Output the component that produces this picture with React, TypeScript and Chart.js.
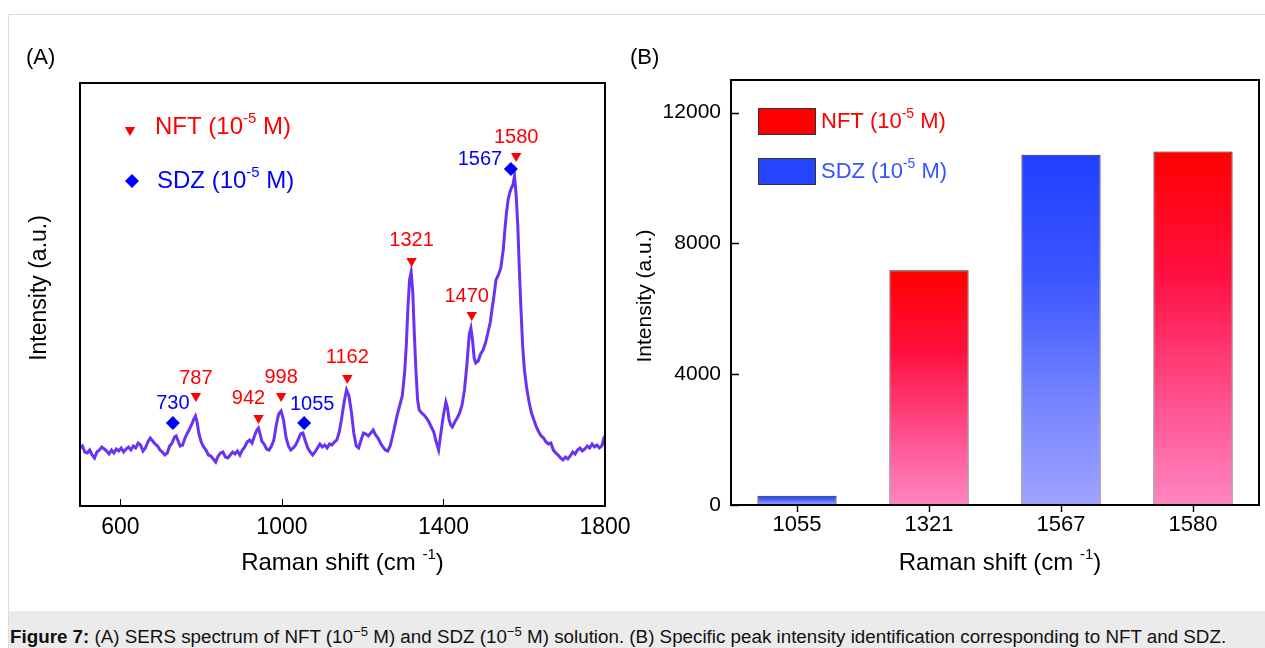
import React, { useEffect, useRef } from 'react';
import { Chart, registerables } from 'chart.js';

Chart.register(...registerables);

const FONT = '"Liberation Sans", Arial, Helvetica, sans-serif';

// ---------- Panel A: SERS spectrum ----------
const ramanShift = [
  500, 506, 512, 518, 524, 530, 536, 542, 548, 554, 560, 566, 572, 578, 584, 590, 596, 602, 608, 614,
  620, 626, 632, 638, 644, 650, 656, 662, 668, 674, 680, 686, 692, 698, 704, 710, 716, 722, 728, 734,
  738, 742, 748, 754, 760, 766, 770, 776, 782, 786, 790, 794, 800, 806, 812, 818, 824, 830, 836, 842,
  848, 854, 860, 866, 872, 878, 884, 890, 896, 902, 908, 914, 920, 926, 932, 938, 942, 946, 950, 956,
  962, 968, 974, 980, 986, 992, 998, 1004, 1010, 1016, 1022, 1028, 1034, 1040, 1046, 1052, 1058, 1064, 1070, 1076,
  1082, 1088, 1094, 1100, 1106, 1112, 1118, 1124, 1130, 1136, 1142, 1148, 1154, 1160, 1166, 1172, 1178, 1184, 1190, 1196,
  1202, 1208, 1214, 1220, 1226, 1232, 1238, 1244, 1250, 1256, 1262, 1268, 1274, 1280, 1286, 1292, 1298, 1304, 1308, 1312,
  1316, 1320, 1324, 1328, 1332, 1336, 1340, 1346, 1352, 1358, 1364, 1370, 1376, 1382, 1388, 1394, 1400, 1406, 1410, 1414,
  1418, 1422, 1428, 1434, 1440, 1446, 1452, 1458, 1464, 1468, 1472, 1476, 1480, 1486, 1492, 1498, 1504, 1510, 1516, 1520,
  1526, 1530, 1536, 1542, 1548, 1552, 1556, 1560, 1564, 1568, 1572, 1576, 1580, 1584, 1588, 1592, 1596, 1600, 1606, 1612,
  1618, 1624, 1630, 1636, 1642, 1648, 1654, 1660, 1666, 1672, 1678, 1684, 1690, 1696, 1702, 1708, 1714, 1720, 1726, 1732,
  1738, 1744, 1750, 1756, 1762, 1768, 1774, 1780, 1786, 1792, 1796, 1800,
];
const intensity = [
  580, 600, 540, 530, 560, 510, 480, 540, 560, 590, 570, 550, 520, 560, 530, 570, 550, 580, 540, 570,
  590, 560, 600, 580, 630, 610, 550, 580, 640, 680, 650, 620, 600, 560, 540, 510, 530, 600, 630, 690,
  700, 660, 600, 610, 680, 730, 760, 810, 870, 900, 840, 730, 640, 590, 560, 510, 500, 470, 440, 500,
  530, 540, 490, 480, 510, 540, 520, 550, 510, 560, 590, 640, 660, 630, 700, 760, 780, 720, 650, 620,
  570, 560, 600, 660, 810, 920, 950, 860, 690, 600, 560, 580, 610, 660, 720, 730, 650, 580, 540, 510,
  540, 580, 620, 590, 610, 580, 620, 610, 640, 660, 740, 880, 1040, 1160, 1100, 940, 730, 600, 580, 660,
  730, 720, 700, 730, 760, 710, 680, 630, 590, 560, 550, 600, 700, 810, 920, 1010, 1100, 1340, 1610, 1980,
  2260, 2340, 2140, 1710, 1340, 1060, 960, 930, 910, 880, 840, 790, 740, 640, 560, 740, 910, 1040, 980, 860,
  810, 790, 840, 880, 930, 1010, 1160, 1410, 1720, 1780, 1660, 1480, 1430, 1450, 1520, 1560, 1630, 1730, 1840, 1960,
  2130, 2260, 2310, 2380, 2560, 2760, 2930, 3060, 3130, 3180, 3210, 3300, 3110, 2810, 2360, 1960, 1610, 1380, 1180, 1040,
  930, 860, 790, 740, 700, 680, 640, 620, 630, 560, 530, 510, 480, 460, 490, 470, 500, 540, 520, 560,
  580, 550, 570, 600, 580, 620, 590, 610, 580, 600, 660, 610,
];
const xTicksA = [600, 1000, 1400, 1800];

// peak markers (x = Raman shift, y = marker intensity)
const nftPeaks = [787, 942, 998, 1162, 1321, 1470, 1580];
const nftMarkerY = [1100, 880, 1100, 1280, 2450, 1910, 3500];
const sdzPeaks = [730, 1055, 1567];
const sdzMarkerY = [830, 830, 3370];

// ---------- Panel B: peak intensities ----------
const barCategories = ['1055', '1321', '1567', '1580'];
const nftBar = [null, 7180, null, 10810];
const sdzBar = [285, null, 10715, null];
const yTicksB = [0, 4000, 8000, 12000];

// styling (label offsets in px relative to marker)
const labelOffset: Record<number, [number, number]> = {
  787: [0, -18], 942: [-10, -20], 998: [0, -19], 1162: [0, -21], 1321: [0, -21],
  1470: [-5, -19], 1580: [0, -19], 730: [0, -20], 1055: [8, -19], 1567: [-31, -10],
};

const RED = '#ff0000';
const BLUE = '#0000ff';
const LINE = '#6a33f2';

type Part = [string, boolean?];

function drawRich(
  ctx: CanvasRenderingContext2D, parts: Part[], x: number, y: number,
  size: number, color: string, align: 'left' | 'center' | 'right' = 'left',
) {
  ctx.save();
  ctx.fillStyle = color;
  ctx.textBaseline = 'middle';
  ctx.textAlign = 'left';
  const supSize = Math.round(size * 0.62);
  const widths = parts.map(([t, sup]) => {
    ctx.font = `${sup ? supSize : size}px ${FONT}`;
    return ctx.measureText(t).width;
  });
  const total = widths.reduce((a, b) => a + b, 0);
  let cx = align === 'left' ? x : align === 'center' ? x - total / 2 : x - total;
  parts.forEach(([t, sup], i) => {
    ctx.font = `${sup ? supSize : size}px ${FONT}`;
    ctx.fillText(t, cx, sup ? y - size * 0.36 : y);
    cx += widths[i];
  });
  ctx.restore();
}

function drawRotated(ctx: CanvasRenderingContext2D, parts: Part[], x: number, y: number, size: number, color: string) {
  ctx.save();
  ctx.translate(x, y);
  ctx.rotate(-Math.PI / 2);
  drawRich(ctx, parts, 0, 0, size, color, 'center');
  ctx.restore();
}

function drawDownTriangle(ctx: CanvasRenderingContext2D, x: number, y: number, r: number, color: string) {
  ctx.save();
  ctx.fillStyle = color;
  ctx.beginPath();
  ctx.moveTo(x, y + r);
  ctx.lineTo(x - r * 0.866, y - r / 2);
  ctx.lineTo(x + r * 0.866, y - r / 2);
  ctx.closePath();
  ctx.fill();
  ctx.restore();
}

function drawDiamond(ctx: CanvasRenderingContext2D, x: number, y: number, r: number, color: string) {
  ctx.save();
  ctx.fillStyle = color;
  ctx.beginPath();
  ctx.moveTo(x, y - r);
  ctx.lineTo(x + r, y);
  ctx.lineTo(x, y + r);
  ctx.lineTo(x - r, y);
  ctx.closePath();
  ctx.fill();
  ctx.restore();
}

const panelAPlugin = {
  id: 'panelA',
  afterDraw(chart: any) {
    const { ctx, chartArea: a, scales } = chart;
    // peak labels
    const sets: [number, number[], string][] = [[1, nftPeaks, RED], [2, sdzPeaks, BLUE]];
    sets.forEach(([di, peaks, color]) => {
      const meta = chart.getDatasetMeta(di);
      meta.data.forEach((pt: any, j: number) => {
        const p = peaks[j];
        const [dx, dy] = labelOffset[p] || [0, -19];
        drawRich(ctx, [[String(p)]], pt.x + dx, pt.y + dy, 20, color, 'center');
      });
    });
    // frame
    ctx.save();
    ctx.strokeStyle = '#000';
    ctx.lineWidth = 2;
    ctx.strokeRect(a.left, a.top, a.right - a.left, a.bottom - a.top);
    ctx.lineWidth = 1;
    xTicksA.forEach((v) => {
      const x = Math.round(scales.x.getPixelForValue(v)) + 0.5;
      ctx.beginPath();
      ctx.moveTo(x, a.bottom);
      ctx.lineTo(x, a.bottom - 7);
      ctx.stroke();
    });
    ctx.restore();
    // legend
    drawDownTriangle(ctx, 130, 130, 6, RED);
    drawRich(ctx, [['NFT (10'], ['-5', true], [' M)']], 155, 127, 24, RED);
    drawDiamond(ctx, 132, 181, 7, BLUE);
    drawRich(ctx, [['SDZ (10'], ['-5', true], [' M)']], 157, 181, 24, BLUE);
    // titles
    drawRich(ctx, [['(A)']], 26, 58, 22, '#000');
    drawRotated(ctx, [['Intensity (a.u.)']], 40, 288, 23, '#000');
    drawRich(ctx, [['Raman shift (cm '], ['-1', true], [')']], (a.left + a.right) / 2, 563, 24, '#000', 'center');
  },
};

function gradFill(stops: [number, string][], fallback: string) {
  return (c: any) => {
    const chart = c.chart;
    const { ctx, chartArea, scales } = chart;
    if (!chartArea || c.type !== 'data' || c.raw == null || !scales.y) return fallback;
    const top = scales.y.getPixelForValue(c.raw);
    const bottom = scales.y.getPixelForValue(0);
    if (!isFinite(top) || !isFinite(bottom) || bottom - top < 1) return fallback;
    const g = ctx.createLinearGradient(0, top, 0, bottom);
    stops.forEach(([o, col]) => g.addColorStop(o, col));
    return g;
  };
}

const NFT_STOPS: [number, string][] = [[0, '#ff0000'], [0.35, '#ff1040'], [0.7, '#ff4f8e'], [1, '#ff86c0']];
const SDZ_STOPS: [number, string][] = [[0, '#2040ff'], [0.35, '#3b55ff'], [0.7, '#7584ff'], [1, '#a0a3ff']];

const panelBPlugin = {
  id: 'panelB',
  afterDraw(chart: any) {
    const { ctx, chartArea: a, scales } = chart;
    ctx.save();
    ctx.strokeStyle = '#000';
    ctx.lineWidth = 2;
    ctx.strokeRect(a.left, a.top, a.right - a.left, a.bottom - a.top);
    ctx.lineWidth = 1.5;
    yTicksB.forEach((v) => {
      const y = Math.round(scales.y.getPixelForValue(v)) + 0.5;
      ctx.beginPath();
      ctx.moveTo(a.left, y);
      ctx.lineTo(a.left + 8, y);
      ctx.stroke();
    });
    barCategories.forEach((_, i) => {
      const x = Math.round(scales.x.getPixelForValue(i)) + 0.5;
      ctx.beginPath();
      ctx.moveTo(x, a.bottom);
      ctx.lineTo(x, a.bottom + 7);
      ctx.stroke();
    });
    // legend boxes
    ctx.lineWidth = 1;
    ctx.strokeStyle = '#333';
    ctx.fillStyle = '#ff0000';
    ctx.fillRect(138, 108, 58, 27);
    ctx.strokeRect(138.5, 108.5, 57, 26);
    ctx.fillStyle = '#2444ff';
    ctx.fillRect(138, 158, 58, 27);
    ctx.strokeRect(138.5, 158.5, 57, 26);
    ctx.restore();
    drawRich(ctx, [['NFT (10'], ['-5', true], [' M)']], 201, 122, 22, '#ff0000');
    drawRich(ctx, [['SDZ (10'], ['-5', true], [' M)']], 201, 172, 22, '#3553ff');
    drawRich(ctx, [['(B)']], 10, 58, 22, '#000');
    drawRotated(ctx, [['Intensity (a.u.)']], 25, 296, 21, '#000');
    drawRich(ctx, [['Raman shift (cm '], ['-1', true], [')']], 380, 563, 24, '#000', 'center');
  },
};

export default function App() {
  const refA = useRef<HTMLCanvasElement>(null);
  const refB = useRef<HTMLCanvasElement>(null);

  useEffect(() => {
    Chart.defaults.font.family = FONT;
    const chartA = new Chart(refA.current!, {
      type: 'line',
      data: {
        datasets: [
          {
            label: 'spectrum',
            data: ramanShift.map((x, i) => ({ x, y: intensity[i] })),
            borderColor: LINE,
            borderWidth: 3,
            pointRadius: 0,
            tension: 0,
            order: 3,
          },
          {
            label: 'NFT',
            data: nftPeaks.map((x, i) => ({ x, y: nftMarkerY[i] })),
            showLine: false,
            pointStyle: 'triangle',
            pointRotation: 180,
            pointRadius: 6,
            pointBorderWidth: 0,
            pointBackgroundColor: RED,
            pointBorderColor: RED,
            order: 1,
          } as any,
          {
            label: 'SDZ',
            data: sdzPeaks.map((x, i) => ({ x, y: sdzMarkerY[i] })),
            showLine: false,
            pointStyle: 'rectRot',
            pointRadius: 7,
            pointBorderWidth: 0,
            pointBackgroundColor: BLUE,
            pointBorderColor: BLUE,
            order: 2,
          } as any,
        ],
      },
      options: {
        responsive: false,
        animation: false,
        events: [],
        layout: { padding: { top: 83, right: 35, left: 0, bottom: 0 } },
        plugins: { legend: { display: false }, tooltip: { enabled: false } },
        scales: {
          x: {
            type: 'linear',
            min: 500,
            max: 1800,
            grid: { display: false, drawTicks: false },
            border: { display: false },
            afterBuildTicks: (s: any) => { s.ticks = xTicksA.map((v) => ({ value: v })); },
            afterFit: (s: any) => { s.height = 94; },
            ticks: {
              font: { family: FONT, size: 23 },
              color: '#000',
              padding: 8,
              maxRotation: 0,
              autoSkip: false,
              callback: (v: any) => String(v),
            },
          },
          y: {
            min: 0,
            max: 4230,
            ticks: { display: false },
            grid: { display: false, drawTicks: false },
            border: { display: false },
            afterFit: (s: any) => { s.width = 80; },
          },
        },
      } as any,
      plugins: [panelAPlugin],
    });

    const chartB = new Chart(refB.current!, {
      type: 'bar',
      data: {
        labels: barCategories,
        datasets: [
          {
            label: 'NFT (10-5 M)',
            data: nftBar,
            backgroundColor: gradFill(NFT_STOPS, '#ff0000'),
            borderColor: '#222',
            borderWidth: 1,
            categoryPercentage: 1,
            barPercentage: 0.6,
            skipNull: true,
          } as any,
          {
            label: 'SDZ (10-5 M)',
            data: sdzBar,
            backgroundColor: gradFill(SDZ_STOPS, '#2040ff'),
            borderColor: '#222',
            borderWidth: 1,
            categoryPercentage: 1,
            barPercentage: 0.6,
            skipNull: true,
          } as any,
        ],
      },
      options: {
        responsive: false,
        animation: false,
        events: [],
        layout: { padding: { top: 80, right: 6, left: 0, bottom: 0 } },
        plugins: { legend: { display: false }, tooltip: { enabled: false } },
        scales: {
          x: {
            grid: { display: false, drawTicks: false },
            border: { display: false },
            afterFit: (s: any) => { s.height = 95; },
            ticks: { font: { family: FONT, size: 22 }, color: '#000', padding: 7, maxRotation: 0 },
          },
          y: {
            min: 0,
            max: 13000,
            grid: { display: false, drawTicks: false },
            border: { display: false },
            afterBuildTicks: (s: any) => { s.ticks = yTicksB.map((v) => ({ value: v })); },
            afterFit: (s: any) => { s.width = 111; },
            ticks: {
              font: { family: FONT, size: 21 },
              color: '#000',
              padding: 10,
              callback: (v: any) => String(v),
            },
          },
        },
      } as any,
      plugins: [panelBPlugin],
    });

    return () => {
      chartA.destroy();
      chartB.destroy();
    };
  }, []);

  return (
    <div style={{ position: 'absolute', left: 0, top: 0, width: 1265, height: 648, overflow: 'hidden', background: '#fff', fontFamily: FONT }}>
      <div style={{ position: 'absolute', left: 8, top: 14, width: 1300, height: 700, border: '1px solid #dcdcdc', boxSizing: 'border-box' }} />
      <canvas ref={refA} width={640} height={600} style={{ position: 'absolute', left: 0, top: 0 }} />
      <canvas ref={refB} width={645} height={600} style={{ position: 'absolute', left: 620, top: 0 }} />
      <div style={{ position: 'absolute', left: 9, top: 611, width: 1256, height: 37, background: '#ebebeb', boxSizing: 'border-box', paddingLeft: 1, paddingTop: 16, fontSize: 18.8, lineHeight: '20px', color: '#111', whiteSpace: 'nowrap' }}>
        <b>Figure 7:</b> (A) SERS spectrum of NFT (10<sup style={{ fontSize: '0.7em', lineHeight: 0 }}>−5</sup> M) and SDZ (10<sup style={{ fontSize: '0.7em', lineHeight: 0 }}>−5</sup> M) solution. (B) Specific peak intensity identification corresponding to NFT and SDZ.
      </div>
    </div>
  );
}
